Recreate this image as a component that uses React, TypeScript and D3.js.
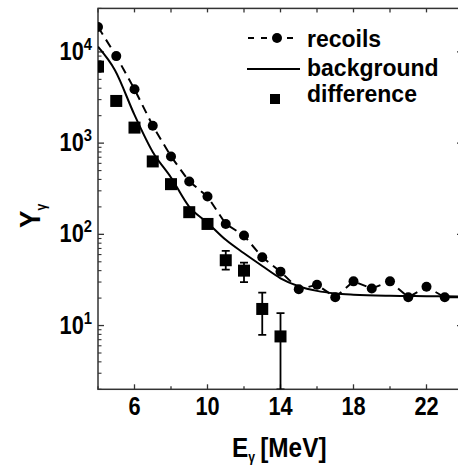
import React from 'react';
import * as d3 from 'd3';

// recoils (circles, dashed line)
const recoilE = [4, 5, 6, 7, 8, 9, 10, 11, 12, 13, 14, 15, 16, 17, 18, 19, 20, 21, 22, 23, 24];
const recoilY = [18800, 9000, 3900, 1550, 713, 380, 260, 130, 97, 56, 39, 25, 28, 20.4, 30.5, 25.5, 30.5, 20.4, 26.6, 20.4, 20.4];

// background (solid curve)
const bgE = [4, 4.93, 6, 7, 8, 9, 10, 11, 12, 13, 14, 15, 16, 17, 18, 20, 22, 24];
const bgY = [11400, 6300, 2040, 800, 420, 200, 134, 87, 62, 45, 33, 27, 24, 22.5, 21.8, 21.2, 21, 20.8];

// difference (squares with error bars)
const diffE = [4, 5, 6, 7, 8, 9, 10, 11, 12, 13, 14];
const diffY = [6900, 2900, 1480, 630, 355, 175, 130, 52, 40, 15.2, 7.6];
const diffLo = [null, null, null, null, null, null, null, 41, 30, 7.9, 1];
const diffHi = [null, null, null, null, null, null, null, 66, 49, 23, 13.7];

const xTicks = [6, 10, 14, 18, 22];
const yDecades = [1, 2, 3, 4];

const W = 458, H = 469;
const FONT = "'Liberation Sans', Arial, sans-serif";
const SX = 0.87; // condensed look of the original lettering

export default function App() {
  const x = d3.scaleLinear().domain([4, 24]).range([98, 463]);
  const y = d3.scaleLog().domain([2, 30000]).range([389.3, 8.4]).clamp(true);
  const [x0, x1] = x.range();
  const [yb, yt] = y.range();

  const bgLine = d3.line<number>()
    .x((d, i) => x(bgE[i]))
    .y(d => y(d))
    .curve(d3.curveMonotoneX);
  const recLine = d3.line<number>()
    .x((d, i) => x(recoilE[i]))
    .y(d => y(d));

  // minor ticks 2..9 per decade
  const minor: number[] = [];
  for (let e = 0; e <= 4; e++) {
    for (let m = 2; m <= 9; m++) {
      const v = m * Math.pow(10, e);
      if (v >= 2 && v <= 30000) minor.push(v);
    }
  }
  const xMinor = d3.range(4, 25, 2);

  return (
    <svg width={W} height={H} style={{ display: 'block', position: 'absolute', left: 0, top: 0, background: '#fff' }}
      fontFamily={FONT} fontWeight="bold">
      <defs>
        <clipPath id="plot">
          <rect x={x0} y={yt} width={x1 - x0} height={yb - yt} />
        </clipPath>
      </defs>

      {/* frame */}
      <rect x={x0} y={yt} width={x1 - x0} height={yb - yt} fill="none" stroke="#333" strokeWidth={1.5} />

      {/* y ticks, left and right */}
      {yDecades.map(e => (
        <g key={'yM' + e}>
          <line x1={x0} x2={x0 + 6} y1={y(Math.pow(10, e))} y2={y(Math.pow(10, e))} stroke="#333" strokeWidth={1.3} />
          <line x1={x1} x2={x1 - 6} y1={y(Math.pow(10, e))} y2={y(Math.pow(10, e))} stroke="#333" strokeWidth={1.3} />
          <g transform={`translate(92,${y(Math.pow(10, e)) + 8}) scale(${SX},1)`}>
            <text textAnchor="end" fontSize={25} fill="#000">
              10<tspan dy={-10} fontSize={17}>{e}</tspan>
            </text>
          </g>
        </g>
      ))}
      {minor.map(v => (
        <g key={'ym' + v}>
          <line x1={x0} x2={x0 + 3.5} y1={y(v)} y2={y(v)} stroke="#333" strokeWidth={1.1} />
          <line x1={x1} x2={x1 - 3.5} y1={y(v)} y2={y(v)} stroke="#333" strokeWidth={1.1} />
        </g>
      ))}

      {/* x ticks, bottom and top */}
      {xMinor.map(v => {
        const major = xTicks.includes(v);
        return (
          <g key={'x' + v}>
            <line x1={x(v)} x2={x(v)} y1={yb} y2={yb - (major ? 5 : 3)} stroke="#333" strokeWidth={1.3} />
            <line x1={x(v)} x2={x(v)} y1={yt} y2={yt + 4} stroke="#333" strokeWidth={1.3} />
          </g>
        );
      })}
      {xTicks.map(v => (
        <g key={'xl' + v} transform={`translate(${x(v)},415) scale(${SX},1)`}>
          <text textAnchor="middle" fontSize={25} fill="#000">{v}</text>
        </g>
      ))}

      {/* axis titles */}
      <g transform={`translate(232,457) scale(${SX},1)`}>
        <text fontSize={28} fill="#000">
          E<tspan dy={5} fontSize={14}>γ</tspan><tspan dy={-5} dx={6}>[MeV]</tspan>
        </text>
      </g>
      <g transform={`translate(40,228) rotate(-90) scale(${SX},1)`}>
        <text fontSize={30} fill="#000">
          Y<tspan dy={6} fontSize={14}>γ</tspan>
        </text>
      </g>

      <g clipPath="url(#plot)">
        {/* background curve */}
        <path d={bgLine(bgY) || ''} fill="none" stroke="#000" strokeWidth={2} />
        {/* recoils */}
        <path d={recLine(recoilY) || ''} fill="none" stroke="#000" strokeWidth={2} strokeDasharray="9,6" />
        {recoilY.map((v, i) => (
          <circle key={'c' + i} cx={x(recoilE[i])} cy={y(v)} r={5} fill="#000" />
        ))}
        {/* difference */}
        {diffY.map((v, i) => {
          const cx = x(diffE[i]);
          const lo = diffLo[i], hi = diffHi[i];
          return (
            <g key={'s' + i}>
              {lo != null && hi != null && (
                <g stroke="#000" strokeWidth={1.8}>
                  <line x1={cx} x2={cx} y1={y(lo)} y2={y(hi)} />
                  <line x1={cx - 4} x2={cx + 4} y1={y(hi)} y2={y(hi)} />
                  <line x1={cx - 4} x2={cx + 4} y1={y(lo)} y2={y(lo)} />
                </g>
              )}
              <rect x={cx - 6} y={y(v) - 6} width={12} height={12} fill="#000" />
            </g>
          );
        })}
      </g>

      {/* legend */}
      <g fontSize={23} fill="#000">
        <line x1={247} x2={300} y1={38} y2={38} stroke="#000" strokeWidth={2} strokeDasharray="6,7" strokeDashoffset={-1} />
        <circle cx={277} cy={38} r={5} fill="#000" />
        <text x={307} y={47}>recoils</text>
        <line x1={247} x2={300} y1={69} y2={69} stroke="#000" strokeWidth={2} />
        <text x={307} y={76}>background</text>
        <rect x={270} y={94} width={10} height={10} fill="#000" />
        <text x={307} y={102}>difference</text>
      </g>
    </svg>
  );
}
